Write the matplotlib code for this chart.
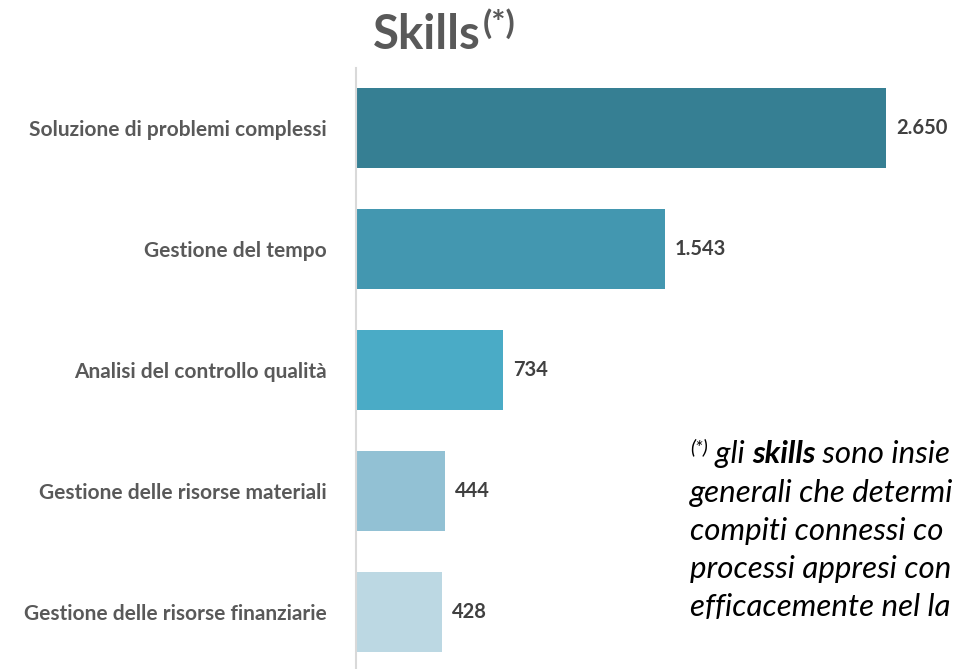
import matplotlib
matplotlib.use("Agg")
import matplotlib.pyplot as plt

plt.rcParams['font.family'] = ['Lato', 'DejaVu Sans']

# Dati
categorie = ['Soluzione di problemi complessi', 'Gestione del tempo',
             'Analisi del controllo qualità', 'Gestione delle risorse materiali',
             'Gestione delle risorse finanziarie']
valori = [2650, 1543, 734, 444, 428]
etichette = ['2.650', '1.543', '734', '444', '428']
colori = ['#367F93', '#4397B0', '#4AABC6', '#92C1D4', '#BCD8E3']

# nota (tagliata dal bordo come nell'originale)
nota_righe = ["generali che determi",
              "compiti connessi co",
              "processi appresi con",
              "efficacemente nel la"]

W, H = 954, 669
fig = plt.figure(figsize=(W / 100, H / 100), dpi=100)
ax = fig.add_axes([356 / W, 0, 1 - 356 / W, (H - 68) / H])

pos = list(range(len(categorie)))
ax.barh(pos, valori, height=0.66, color=colori)
ax.set_xlim(0, (W - 356) / 0.2)
ax.set_ylim(4.467, -0.495)

for p, v, t in zip(pos, valori, etichette):
    ax.text(v + 50, p, t, va='center', ha='left', fontsize=14.5,
            fontweight='bold', color='#404040')

ax.set_yticks(pos)
ax.set_yticklabels(categorie, fontsize=15, fontweight='bold', color='#595959')
ax.tick_params(axis='y', length=0, pad=21)
ax.set_xticks([])
for s in ['top', 'right', 'bottom']:
    ax.spines[s].set_visible(False)
ax.spines['left'].set_color('#D9D9D9')
ax.spines['left'].set_linewidth(1.5)

# Titolo
fig.text(373 / W, 1 - 49 / H, 'Skills', fontsize=34, fontweight='bold',
         color='#595959', ha='left', va='baseline')
fig.canvas.draw()
r = fig.canvas.get_renderer()
bb = fig.texts[-1].get_window_extent(r)
fig.text((bb.x1 + 2) / W, 1 - 34 / H, '(*)', fontsize=24, fontweight='bold',
         color='#595959', ha='left', va='baseline')

# Nota
fs = 22.5
x0 = 690
y_base = [463, 502, 540, 578, 616]
pezzi = [('(*)', 14, 'normal', 10), (' gli ', fs, 'normal', 0),
         ('skills', fs, 'bold', 0), (' sono insie', fs, 'normal', 0)]
x = x0
for testo, size, peso, alza in pezzi:
    t = fig.text(x / W, 1 - (y_base[0] - alza) / H, testo, fontsize=size,
                 fontweight=peso, style='italic', color='black',
                 ha='left', va='baseline')
    x = t.get_window_extent(r).x1
for riga, yb in zip(nota_righe, y_base[1:]):
    fig.text(x0 / W, 1 - yb / H, riga, fontsize=fs, style='italic',
             color='black', ha='left', va='baseline')

fig.savefig('out.png', dpi=100)
